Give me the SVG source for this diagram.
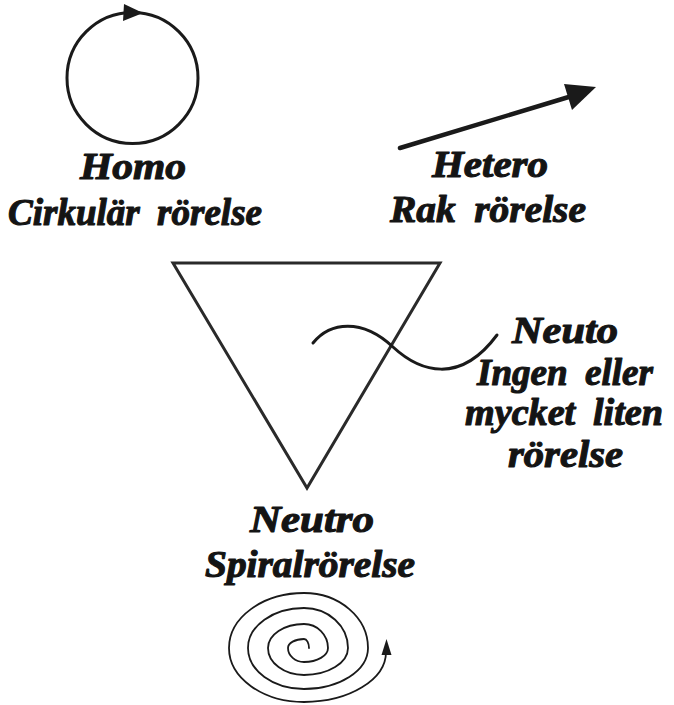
<svg xmlns="http://www.w3.org/2000/svg" width="674" height="705" viewBox="0 0 674 705">
<style>
  .lbl { font-family: "Liberation Serif", "Times New Roman", serif; font-weight: bold; font-style: italic; font-size: 37px; fill: #141414; stroke: #141414; stroke-width: 1.1px; stroke-linejoin: round; word-spacing: 8px; }
  .ln { fill: none; stroke: #1a1a1a; stroke-linecap: round; }
  .head { fill: #1a1a1a; stroke: none; }
</style>
<rect width="674" height="705" fill="#ffffff"/>

<g id="homo">
  <circle class="ln" cx="132.5" cy="78" r="65.5" stroke-width="3"/>
  <polygon class="head" points="143,13 124,4 123,21"/>
  <text class="lbl" x="80" y="179" textLength="106" lengthAdjust="spacingAndGlyphs">Homo</text>
  <text class="lbl" x="8" y="225" textLength="254" lengthAdjust="spacingAndGlyphs">Cirkulär rörelse</text>
</g>

<g id="hetero">
  <line class="ln" x1="400" y1="148" x2="572" y2="96" stroke-width="4.5" stroke-linecap="butt"/>
  <polygon class="head" points="596,87 564,84 572,110"/>
  <text class="lbl" x="432" y="177" textLength="116" lengthAdjust="spacingAndGlyphs">Hetero</text>
  <text class="lbl" x="390" y="222" textLength="196" lengthAdjust="spacingAndGlyphs">Rak rörelse</text>
</g>

<g id="triangle">
  <polygon points="173,263 440,263 307,488" fill="none" stroke="#2a2a2a" stroke-width="3" stroke-linejoin="miter"/>
</g>

<g id="neuto">
  <path class="ln" d="M313,343 C330,322 362,318 393,347 C420,372 460,385 497,335" stroke="#2a2a2a" stroke-width="3"/>
  <text class="lbl" x="512" y="343" textLength="106" lengthAdjust="spacingAndGlyphs">Neuto</text>
  <text class="lbl" x="477" y="385" textLength="176" lengthAdjust="spacingAndGlyphs">Ingen eller</text>
  <text class="lbl" x="465" y="425" textLength="198" lengthAdjust="spacingAndGlyphs">mycket liten</text>
  <text class="lbl" x="508" y="467" textLength="115" lengthAdjust="spacingAndGlyphs">rörelse</text>
</g>

<g id="neutro">
  <text class="lbl" x="250" y="532" textLength="124" lengthAdjust="spacingAndGlyphs">Neutro</text>
  <text class="lbl" x="205" y="577" textLength="210" lengthAdjust="spacingAndGlyphs">Spiralrörelse</text>
  <path class="ln" stroke-width="1.8" d="M309,648 A5,9 0 0 0 304,639 A16,9 0 0 0 288,648 A16,14 0 0 0 304,662 A24,14 0 0 0 328,648 A24,24 0 0 0 304,624 A36,24 0 0 0 268,648 A36,27 0 0 0 304,675 A44,27 0 0 0 348,648 A44,40 0 0 0 304,608 A56,40 0 0 0 248,648 A56,41 0 0 0 304,689 A64,41 0 0 0 368,648 A64,55 0 0 0 304,593 A75,55 0 0 0 229,648 A75,54 0 0 0 304,702 A82,50 0 0 0 386,652"/>
  <polygon class="head" points="386.5,639 381.5,655 391.5,655"/>
</g>
</svg>
